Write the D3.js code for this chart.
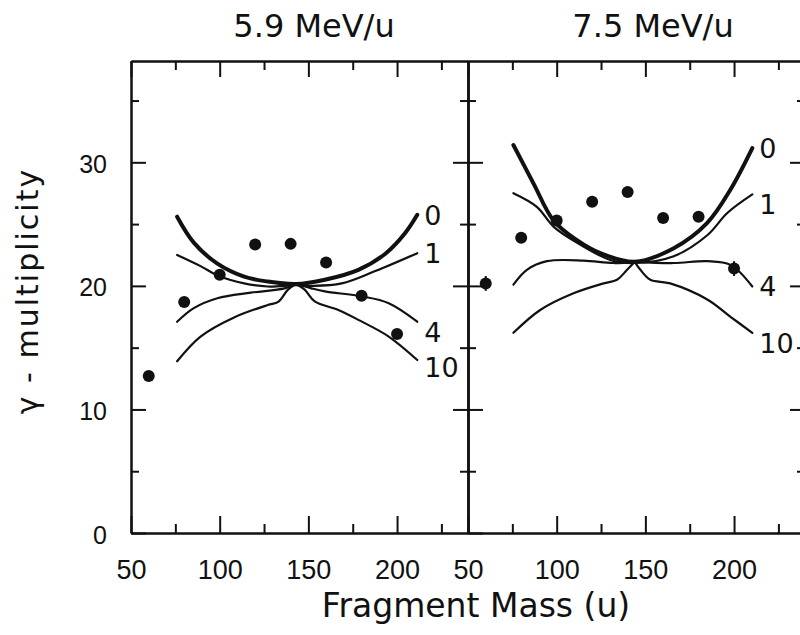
<!DOCTYPE html>
<html>
<head>
<meta charset="utf-8">
<script src="https://cdn.jsdelivr.net/npm/d3@7"></script>
<style>
  body { margin: 0; background: #fff; }
  svg { font-family: "DejaVu Sans", sans-serif; }
  .axis path, .axis line { stroke: #111; stroke-width: 2; }
  .axis text { fill: #111; }
</style>
</head>
<body>
<div id="chart"></div>
<script>
// Panel titles (beam energies)
const panelTitles = ["5.9 MeV/u", "7.5 MeV/u"];

// Fragment masses of the measured points
const masses = [60, 80, 100, 120, 140, 160, 180, 200];

// Measured gamma multiplicities
const mult59 = [12.7, 18.7, 20.9, 23.35, 23.4, 21.9, 19.2, 16.1];
const mult75 = [20.2, 23.9, 25.3, 26.8, 27.6, 25.5, 25.6, 21.4];
// small error bars visible on some points
const err59 = [0, 0, 0, 0, 0, 0, 0, 0];
const err75 = [0.6, 0, 0, 0, 0, 0, 0, 0.6];

// Calculated curves, labelled 0, 1, 4, 10
const curveLabels = ["0", "1", "4", "10"];

const curves59 = [
  [[76,25.6],[85.4,23.5],[98.7,21.8],[113.8,20.75],[127.1,20.35],[143,20.15],[159.3,20.5],[178.2,21.3],[193.4,22.6],[204.7,24.3],[211.4,25.75]],
  [[76,22.5],[89.2,21.6],[99.6,20.8],[113.8,20.2],[127.1,19.95],[143,20.05],[151.7,20.0],[168.8,20.2],[187.7,21.2],[211.4,22.65]],
  [[76,17.1],[85.4,18.2],[98.7,19.0],[117.6,19.45],[136.5,19.8],[143,20.15],[151.7,19.8],[159.3,19.55],[180.1,19.15],[195.3,18.6],[211.4,17.1]],
  [[76,13.9],[89.2,15.9],[108.1,17.45],[127.1,18.45],[133,18.7],[138.5,19.7],[143,20.15],[147.9,19.7],[153.6,18.75],[166.9,18.05],[178.2,17.25],[195.3,15.9],[211.4,14.0]]
];

const curves75 = [
  [[75.6,31.4],[86.9,28.3],[98.2,25.3],[111.4,23.7],[124.6,22.65],[144,21.95],[166,23.05],[184.9,25.1],[198,27.8],[210.3,31.15]],
  [[75.6,27.5],[88.8,26.4],[98.2,24.8],[111.4,23.5],[130.2,22.1],[144,21.85],[166,22.4],[184.9,24.1],[196.2,25.9],[210.3,27.4]],
  [[75.6,20.1],[83.2,21.3],[94.5,22.0],[115.2,22.05],[132.1,21.85],[144,21.95],[166,21.85],[184.9,22.0],[198,21.7],[210.3,19.95]],
  [[75.6,16.2],[90.7,18.05],[109.5,19.4],[126.4,20.2],[134,20.5],[139.7,21.3],[144,21.95],[147.2,21.3],[152.8,20.5],[164,20.2],[184.9,18.9],[198,17.5],[210.3,16.2]]
];

// where all curves meet (curves 4 and 10 have a sharp point there)
const cusps = [143, 144];
const cuspCurves = ["4", "10"];

// axis ticks
const xMajor = [50, 100, 150, 200];
const xMinor = [75, 125, 175, 225];
const yMajor = [0, 10, 20, 30];
const yMinor = [5, 15, 25, 35];

const width = 800;
const height = 635;

const svg = d3.select("#chart").append("svg")
    .attr("width", width)
    .attr("height", height);

const plotTop = 61, plotBottom = 533;
const y = d3.scaleLinear().domain([0, 38.2]).range([plotBottom, plotTop]);

const panels = [
  { x0: 131, x1: 468, pts: mult59, err: err59, curves: curves59, cusp: cusps[0], title: panelTitles[0], tx: 314,
    labelDy: [0, 0, 11, 7] },
  { x0: 468, x1: 805, pts: mult75, err: err75, curves: curves75, cusp: cusps[1], title: panelTitles[1], tx: 653,
    labelDy: [0, 10, 0, 10] }
];

const line = d3.line()
    .x(d => d.x)
    .y(d => d.y)
    .curve(d3.curveCatmullRom.alpha(0.5));

panels.forEach((p, i) => {
  const x = d3.scaleLinear().domain([50, 240]).range([p.x0, p.x1]);

  // bottom axis with labels
  svg.append("g").attr("class", "axis")
      .attr("transform", `translate(0,${plotBottom})`)
      .call(d3.axisBottom(x).tickValues(xMajor).tickSize(-17).tickSizeOuter(0).tickPadding(27))
      .call(g => g.selectAll("text").attr("font-size", 27));
  svg.append("g").attr("class", "axis")
      .attr("transform", `translate(0,${plotBottom})`)
      .call(d3.axisBottom(x).tickValues(xMinor).tickSize(-9).tickSizeOuter(0).tickFormat(""));

  // top axis
  svg.append("g").attr("class", "axis")
      .attr("transform", `translate(0,${plotTop})`)
      .call(d3.axisTop(x).tickValues(xMajor).tickSize(-16).tickSizeOuter(0).tickFormat(""));
  svg.append("g").attr("class", "axis")
      .attr("transform", `translate(0,${plotTop})`)
      .call(d3.axisTop(x).tickValues(xMinor).tickSize(-9).tickSizeOuter(0).tickFormat(""));

  // left side of the panel: ticks point right
  const left = svg.append("g").attr("class", "axis")
      .attr("transform", `translate(${p.x0},0)`)
      .call(d3.axisLeft(y).tickValues(yMajor).tickSize(-15).tickSizeOuter(0).tickPadding(24)
        .tickFormat(i === 0 ? d3.format("d") : ""));
  left.selectAll("text").attr("font-size", 25).attr("dy", "0.4em");
  svg.append("g").attr("class", "axis")
      .attr("transform", `translate(${p.x0},0)`)
      .call(d3.axisLeft(y).tickValues(yMinor).tickSize(-8).tickSizeOuter(0).tickFormat(""));

  // right side of the panel: ticks point left
  svg.append("g").attr("class", "axis")
      .attr("transform", `translate(${p.x1},0)`)
      .call(d3.axisRight(y).tickValues(yMajor.slice(1)).tickSize(-15).tickSizeOuter(0).tickFormat(""));
  svg.append("g").attr("class", "axis")
      .attr("transform", `translate(${p.x1},0)`)
      .call(d3.axisRight(y).tickValues(yMinor).tickSize(-8).tickSizeOuter(0).tickFormat(""));

  // title
  svg.append("text")
      .attr("x", p.tx)
      .attr("y", 37)
      .attr("text-anchor", "middle")
      .attr("font-size", 32)
      .attr("fill", "#111")
      .text(p.title);

  // curves
  p.curves.forEach((c, k) => {
    const pts = c.map(d => ({ x: x(d[0]), y: y(d[1]), m: d[0] }));
    const parts = cuspCurves.includes(curveLabels[k])
      ? [pts.filter(d => d.m <= p.cusp), pts.filter(d => d.m >= p.cusp)]
      : [pts];
    parts.forEach(part => {
      svg.append("path")
          .attr("d", line(part))
          .attr("fill", "none")
          .attr("stroke", "#111")
          .attr("stroke-width", k === 0 ? 4 : 2.2)
          .attr("stroke-linecap", "round");
    });
    const last = c[c.length - 1];
    svg.append("text")
        .attr("x", x(last[0]) + 7)
        .attr("y", y(last[1]) + p.labelDy[k])
        .attr("dy", "0.36em")
        .attr("font-size", 27)
        .attr("fill", "#111")
        .text(curveLabels[k]);
  });

  // error bars
  svg.append("g").selectAll("line")
    .data(masses.map((m, j) => [m, p.pts[j], p.err[j]]).filter(d => d[2] > 0))
    .join("line")
      .attr("x1", d => x(d[0])).attr("x2", d => x(d[0]))
      .attr("y1", d => y(d[1] - d[2])).attr("y2", d => y(d[1] + d[2]))
      .attr("stroke", "#111")
      .attr("stroke-width", 2);

  // measured points
  svg.append("g").selectAll("circle")
    .data(masses.map((m, j) => [m, p.pts[j]]))
    .join("circle")
      .attr("cx", d => x(d[0]))
      .attr("cy", d => y(d[1]))
      .attr("r", 6)
      .attr("fill", "#111");
});

// axis titles
svg.append("text")
    .attr("x", 476)
    .attr("y", 617)
    .attr("text-anchor", "middle")
    .attr("font-size", 33)
    .attr("fill", "#111")
    .text("Fragment Mass (u)");

svg.append("text")
    .attr("transform", "translate(38,291) rotate(-90)")
    .attr("text-anchor", "middle")
    .attr("font-size", 30)
    .attr("letter-spacing", 2)
    .attr("fill", "#111")
    .text("γ - multiplicity");
</script>
</body>
</html>
